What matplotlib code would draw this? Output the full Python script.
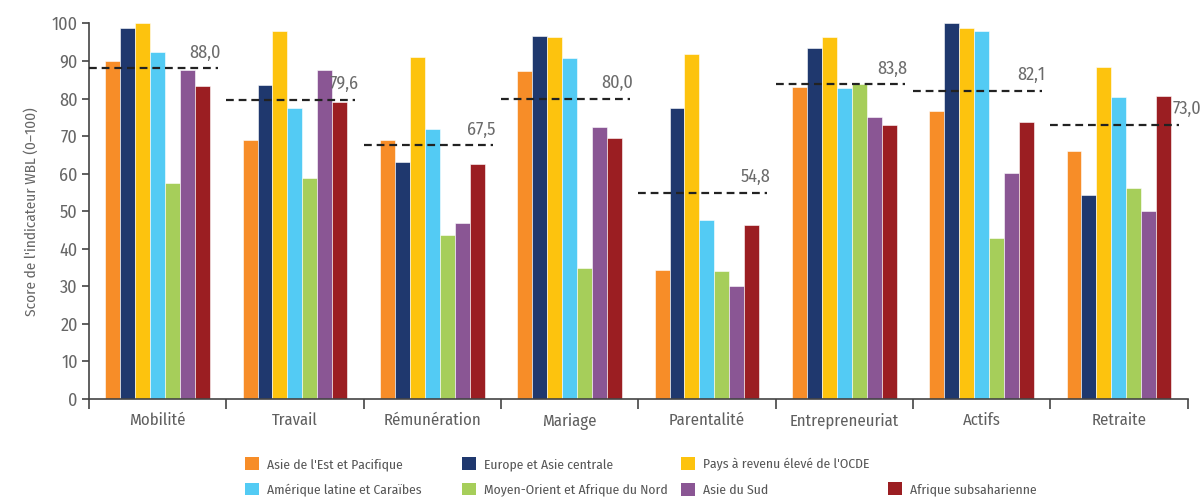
import matplotlib
matplotlib.use('Agg')
import matplotlib.pyplot as plt
import numpy as np
from matplotlib.patches import Patch

plt.rcParams['font.family'] = ['Fira Sans Condensed', 'DejaVu Sans']

categories = ['Mobilité', 'Travail', 'Rémunération', 'Mariage', 'Parentalité',
              'Entrepreneuriat', 'Actifs', 'Retraite']
regions = ["Asie de l'Est et Pacifique", 'Europe et Asie centrale',
           "Pays à revenu élevé de l'OCDE", 'Amérique latine et Caraïbes',
           'Moyen-Orient et Afrique du Nord', 'Asie du Sud', 'Afrique subsaharienne']
colors = ['#F78D28', '#1F386E', '#FDC30E', '#53CBF4', '#A6CE5A', '#8A5694', '#9B1E22']

eap = [90.0, 69.0, 69.0, 87.3, 34.3, 83.0, 76.8, 66.0]
eca = [98.9, 83.7, 63.0, 96.6, 77.5, 93.4, 100.0, 54.3]
oecd = [100.0, 97.9, 91.1, 96.4, 91.8, 96.4, 98.8, 88.3]
lac = [92.3, 77.5, 71.9, 90.7, 47.6, 82.8, 98.1, 80.5]
mena = [57.5, 58.7, 43.7, 34.9, 34.0, 83.8, 42.9, 56.2]
sas = [87.6, 87.5, 46.8, 72.5, 30.0, 75.0, 60.1, 50.0]
ssa = [83.4, 79.2, 62.5, 69.6, 46.3, 72.9, 73.7, 80.7]
series = [eap, eca, oecd, lac, mena, sas, ssa]

# moyenne mondiale par indicateur
average = [88.0, 79.6, 67.5, 80.0, 54.8, 83.8, 82.1, 73.0]
average_labels = ['88,0', '79,6', '67,5', '80,0', '54,8', '83,8', '82,1', '73,0']

fig = plt.figure(figsize=(12.02, 4.98), dpi=100)
ax = fig.add_axes([0.074, 0.199, 0.914, 0.754])

x = np.arange(len(categories))
w = 0.109
for k, vals in enumerate(series):
    ax.bar(x + (k - 3) * w, vals, w, color=colors[k], edgecolor='white',
           linewidth=0.4, zorder=2)

for i, v in enumerate(average):
    ax.plot([i - 0.5, i + 0.44], [v, v], color='#222222', lw=1.6,
            linestyle=(0, (3.5, 2.2)), zorder=3)
    # last label sits past the red bar
    dx = 16 if i == len(average) - 1 else 2
    ax.annotate(average_labels[i], (i + 0.44, v), xytext=(dx, 5),
                textcoords='offset points', ha='right', va='bottom',
                fontsize=13, color='#6b6b6b', zorder=4,
                annotation_clip=False)

ax.set_xlim(-0.5, len(categories) - 0.5)
ax.set_ylim(0, 100)
ax.set_yticks(range(0, 101, 10))
ax.set_xticks(x)
ax.set_xticklabels(categories)
ax.set_xticks(np.arange(-0.5, len(categories)), minor=True)
ax.tick_params(axis='x', which='major', length=0, pad=10, labelsize=12,
               labelcolor='#5f5f5f')
ax.tick_params(axis='x', which='minor', length=7, width=1.2, color='#444444',
               direction='out')
ax.tick_params(axis='y', length=5, width=1.2, color='#444444', labelsize=13,
               labelcolor='#666666', pad=3)
ax.set_ylabel("Score de l'indicateur WBL (0\u2013100)", fontsize=11,
              color='#666666', labelpad=9)

for s in ['top', 'right']:
    ax.spines[s].set_visible(False)
for s in ['left', 'bottom']:
    ax.spines[s].set_color('#444444')
    ax.spines[s].set_linewidth(1.2)

# legend: four fixed-width columns
columns = [[0, 3], [1, 4], [2, 5], [6]]
col_x = [245, 462, 681, 888]
for cols, cx in zip(columns, col_x):
    handles = [Patch(facecolor=colors[k], edgecolor='none') for k in cols]
    labels = [regions[k] for k in cols]
    top = 457 if cols[0] != 6 else 482
    fig.legend(handles, labels, loc='upper left',
               bbox_to_anchor=(cx / 1202, 1 - top / 498), frameon=False,
               borderpad=0, borderaxespad=0, handlelength=1.05,
               handleheight=1.05, handletextpad=0.55, labelspacing=0.9,
               fontsize=9.8, labelcolor='#555555')

fig.savefig('out.png', dpi=100)
